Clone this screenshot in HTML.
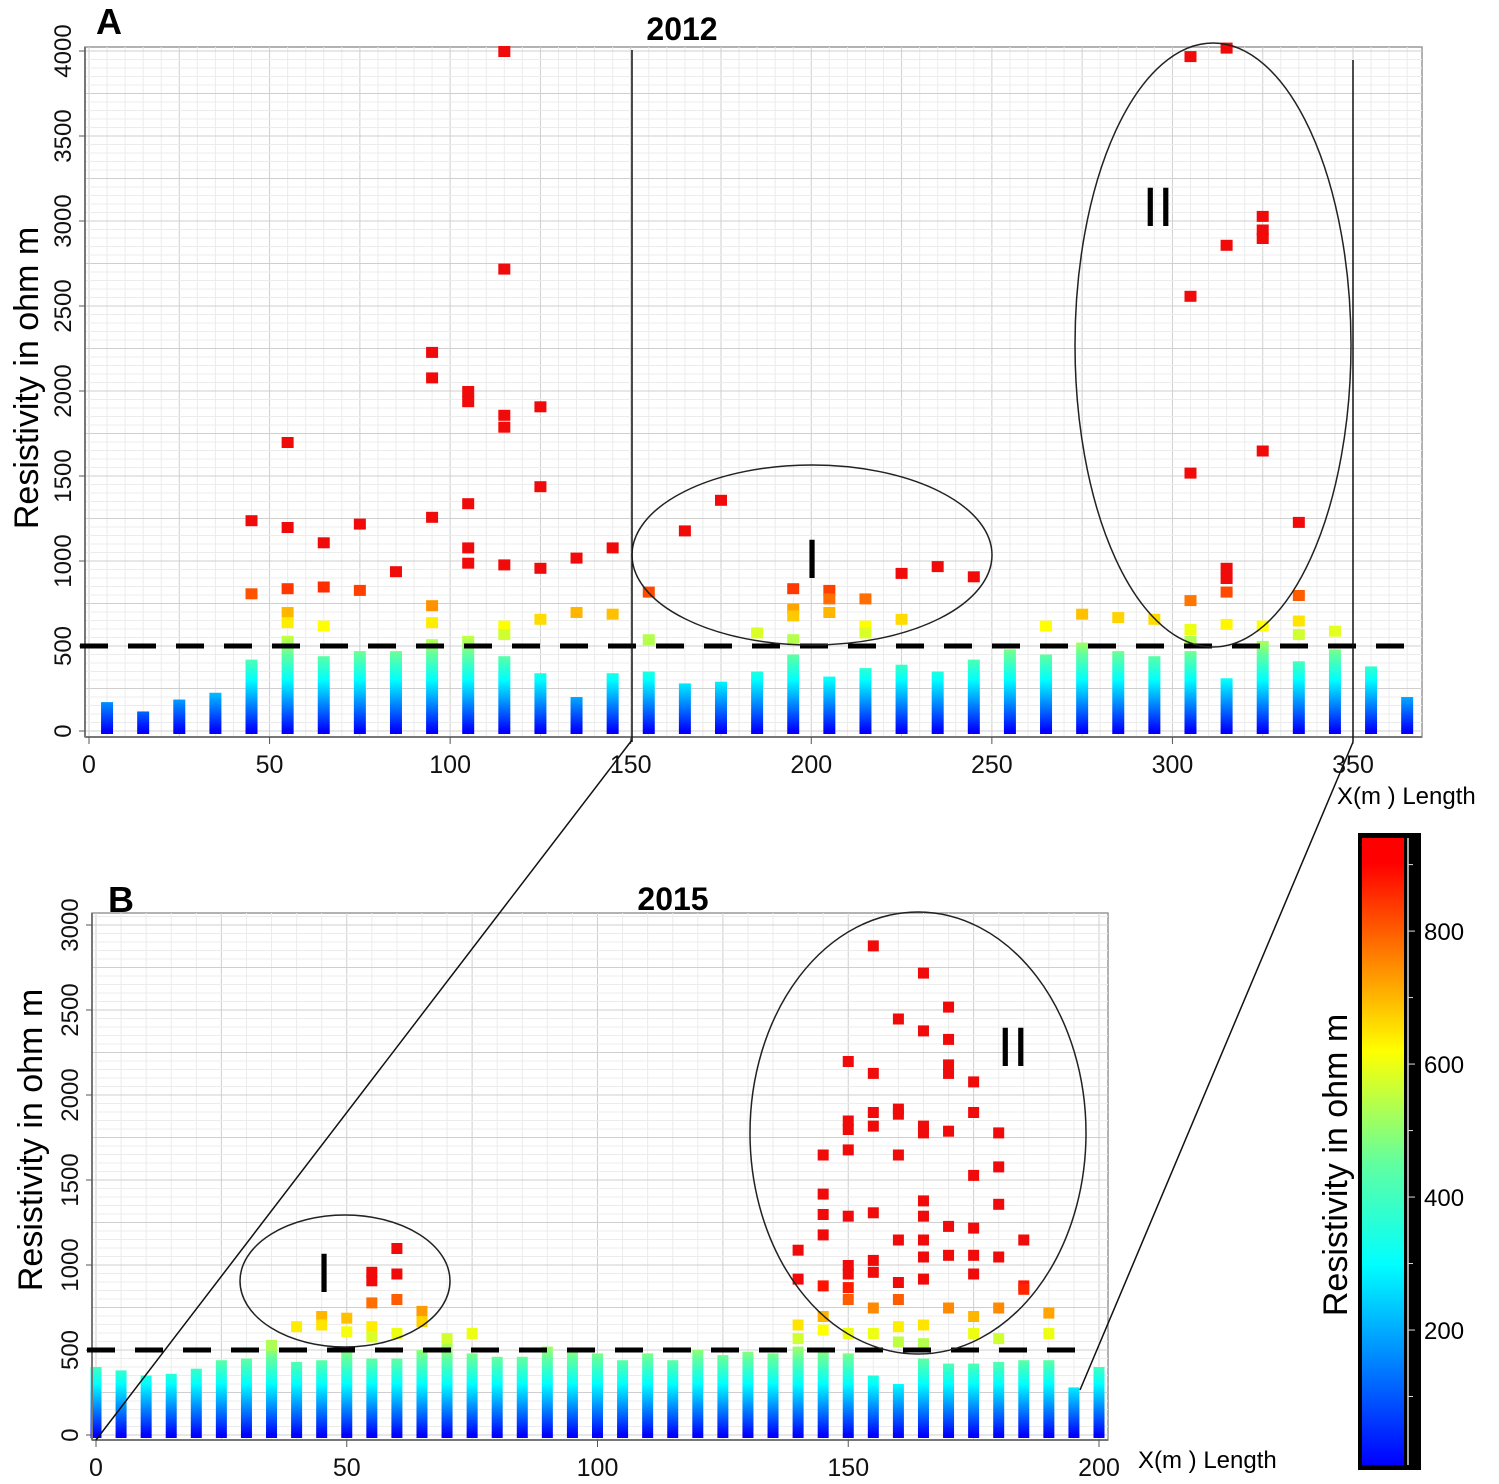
<!DOCTYPE html>
<html><head><meta charset="utf-8"><style>
html,body{margin:0;padding:0;background:#fff}
svg{display:block;font-family:"Liberation Sans",sans-serif}
</style></head><body>
<svg id="s" width="1499" height="1484" viewBox="0 0 1499 1484" xmlns="http://www.w3.org/2000/svg">
<defs>
<linearGradient id="cbgrad" x1="0" y1="1" x2="0" y2="0">
<stop offset="0" stop-color="#0000ff"/><stop offset="0.16" stop-color="#0080ff"/><stop offset="0.32" stop-color="#00ffff"/><stop offset="0.48" stop-color="#60ffa0"/><stop offset="0.66" stop-color="#ffff00"/><stop offset="0.81" stop-color="#ff8000"/><stop offset="0.96" stop-color="#ff0000"/><stop offset="1" stop-color="#ff0000"/>
</linearGradient>
</defs>
<g id="layer"></g>
</svg>
<script>
// ---- Chart A (2012) data ----
const colsA = [5,15,25,35,45,55,65,75,85,95,105,115,125,135,145,155,165,175,185,195,205,215,225,235,245,255,265,275,285,295,305,315,325,335,345,355,365];
const stackA = [170,115,185,225,420,560,440,470,470,540,560,440,340,200,340,350,280,290,350,450,320,370,390,350,420,480,450,520,470,440,470,310,530,410,480,380,200];
const ptsAx = [45,45,55,55,55,55,55,65,65,65,75,75,85,95,95,95,95,95,105,105,105,105,105,115,115,115,115,115,115,115,125,125,125,125,135,135,145,145,155,155,165,175,185,195,195,195,195,205,205,205,215,215,215,225,225,235,245,265,275,285,295,305,305,305,305,305,305,315,315,315,315,315,315,325,325,325,325,325,335,335,335,335,345];
const ptsAv = [1240,810,1700,1200,840,700,640,1110,850,620,1220,830,940,2230,2080,1260,740,640,2000,1940,1340,1080,990,4000,2720,1860,1790,980,620,570,1910,1440,960,660,1020,700,1080,690,820,540,1180,1360,580,840,720,680,540,830,780,700,780,620,580,930,660,970,910,620,690,670,660,3970,2560,1520,770,600,530,4020,2860,960,900,820,630,3030,2950,2900,1650,620,1230,800,650,570,590];
const xTicksA = [0,50,100,150,200,250,300,350];
const yTicksA = [0,500,1000,1500,2000,2500,3000,3500,4000];
// ---- Chart B (2015) data ----
const colsB = [0,5,10,15,20,25,30,35,40,45,50,55,60,65,70,75,80,85,90,95,100,105,110,115,120,125,130,135,140,145,150,155,160,165,170,175,180,185,190,195,200];
const stackB = [400,380,350,360,390,440,450,530,430,440,520,450,450,500,540,480,460,460,520,490,480,440,480,440,500,470,490,480,520,500,480,350,300,450,420,420,430,440,440,280,400];
const ptsBx = [35,40,45,45,50,50,55,55,55,55,55,60,60,60,60,65,65,70,75,140,140,140,140,145,145,145,145,145,145,145,150,150,150,150,150,150,150,150,150,150,155,155,155,155,155,155,155,155,155,160,160,160,160,160,160,160,160,160,165,165,165,165,165,165,165,165,165,165,165,170,170,170,170,170,170,170,170,175,175,175,175,175,175,175,175,180,180,180,180,180,180,185,185,185,190,190];
const ptsBv = [530,640,700,650,690,610,960,910,780,640,580,1100,950,800,600,730,670,570,600,1090,920,650,570,1650,1420,1300,1180,880,700,620,2200,1850,1800,1680,1290,1000,950,870,800,600,2880,2130,1900,1820,1310,1030,960,750,600,2450,1920,1890,1650,1150,900,800,640,550,2720,2380,1820,1780,1380,1290,1150,1050,920,650,540,2520,2330,2180,2130,1790,1230,1060,750,2080,1900,1530,1220,1060,950,700,600,1780,1580,1360,1050,750,570,1150,880,860,720,600];
const xTicksB = [0,50,100,150,200];
const yTicksB = [0,500,1000,1500,2000,2500,3000];
const cbTicks = [200,400,600,800];

const NS='http://www.w3.org/2000/svg';
const L=document.getElementById('layer');
function mk(t,a,p){const e=document.createElementNS(NS,t);for(const k in a)e.setAttribute(k,a[k]);(p||L).appendChild(e);return e;}
const stops=[[0,[0,0,255]],[150,[0,128,255]],[300,[0,255,255]],[450,[96,255,160]],[620,[255,255,0]],[760,[255,128,0]],[900,[255,0,0]]];
function jet(v){if(v>=900)return 'rgb(240,10,10)';if(v<=0)return 'rgb(0,0,255)';for(let i=1;i<stops.length;i++){if(v<=stops[i][0]){const a=stops[i-1],b=stops[i],t=(v-a[0])/(b[0]-a[0]);const c=a[1].map((x,j)=>Math.round(x+(b[1][j]-x)*t));return `rgb(${c})`;}}}

function chart(o){
  const X=v=>o.x0+v*o.kx, Y=v=>o.y0-v*o.ky;
  const g=mk('g',{});
  
  
  mk('rect',{x:o.l,y:o.t,width:o.r-o.l,height:o.b-o.t,fill:'#fff',stroke:'#999','stroke-width':1.5},g);
  // grid
  for(let v=0;X(v)<=o.r;v+=o.minX){const x=X(v);if(x<o.l)continue;mk('line',{x1:x,x2:x,y1:o.t,y2:o.b,stroke:(v%o.majX===0)?'#cfcfcf':'#ececec','stroke-width':1},g);}
  for(let v=0;Y(v)>=o.t;v+=o.minY){const y=Y(v);mk('line',{x1:o.l,x2:o.r,y1:y,y2:y,stroke:(v%o.majY===0)?'#cfcfcf':'#ececec','stroke-width':1},g);}
  // gradient for stacks
  const gid=o.name+'-grad';
  const lg=mk('linearGradient',{id:gid,gradientUnits:'userSpaceOnUse',x1:0,x2:0,y1:Y(0),y2:Y(900)},document.querySelector('defs'));
  [[0,'#0000ff'],[150/900,'#0080ff'],[300/900,'#00ffff'],[0.5,'#60ffa0'],[620/900,'#ffff00'],[760/900,'#ff8000'],[1,'#ff0000']].forEach(s=>mk('stop',{offset:s[0],'stop-color':s[1]},lg));
  o.cols.forEach((c,i)=>{
    const r=mk('rect',{x:X(c)-o.w/2,y:Y(o.stack[i]),width:o.w,height:Y(0)-Y(o.stack[i])+3,fill:`url(#${gid})`},g);
    
    
  });
  o.px.forEach((c,i)=>{
    const v=o.pv[i];
    const r=mk('rect',{x:X(c)-o.w/2,y:Y(v)-5,width:o.w,height:11,fill:jet(v)},g);
    
    
  });
  // axis ticks
  mk('line',{x1:o.l,x2:o.l,y1:o.t,y2:o.b,stroke:'#777','stroke-width':2},g);
  mk('line',{x1:o.l,x2:o.r,y1:o.b,y2:o.b,stroke:'#777','stroke-width':2},g);
  o.xt.forEach(v=>{const t=mk('text',{x:X(v),y:o.b+36,'font-size':25,'text-anchor':'middle',fill:'#111'},g);t.textContent=v;
    
    mk('line',{x1:X(v),x2:X(v),y1:o.b,y2:o.b+7,stroke:'#555'},g);});
  o.yt.forEach(v=>{const y=Y(v);const t=mk('text',{x:o.l-14,y:y,'font-size':24,'text-anchor':'middle',fill:'#111',transform:`rotate(-90 ${o.l-14} ${y})`},g);t.textContent=v;
    
    mk('line',{x1:o.l-6,x2:o.l,y1:y,y2:y,stroke:'#555'},g);});
  // dashed 500 line
  const d=mk('line',{x1:o.l-5,x2:o.dashEnd,y1:Y(500),y2:Y(500),stroke:'#000','stroke-width':5,'stroke-dasharray':'28,20'},g);
  
  return {X,Y};
}

chart({name:'chart-2012',x0:89,kx:1264/350,y0:731,ky:680/4000,l:85,r:1422,t:47,b:737,minX:5,majX:25,minY:50,majY:250,w:12,
  cols:colsA,stack:stackA,px:ptsAx,pv:ptsAv,xt:xTicksA,yt:yTicksA,dashEnd:1410});
chart({name:'chart-2015',x0:96,kx:1003/200,y0:1435,ky:510/3000,l:92,r:1108,t:913,b:1440,minX:5,majX:25,minY:50,majY:250,w:11,
  cols:colsB,stack:stackB,px:ptsBx,pv:ptsBv,xt:xTicksB,yt:yTicksB,dashEnd:1080});

function txt(s,a,name){const t=mk('text',a);t.textContent=s;return t;}
txt('A',{x:96,y:34,'font-size':36,'font-weight':'bold'},'panel-label-a');
txt('B',{x:108,y:912,'font-size':36,'font-weight':'bold'},'panel-label-b');
txt('2012',{x:682,y:40,'font-size':32,'font-weight':'bold','text-anchor':'middle'},'title-2012');
txt('2015',{x:673,y:910,'font-size':32,'font-weight':'bold','text-anchor':'middle'},'title-2015');
txt('Resistivity in ohm m',{x:38,y:378,'font-size':34,'text-anchor':'middle',transform:'rotate(-90 38 378)'},'y-axis-title-2012');
txt('Resistivity in ohm m',{x:42,y:1140,'font-size':34,'text-anchor':'middle',transform:'rotate(-90 42 1140)'},'y-axis-title-2015');
txt('X(m ) Length',{x:1337,y:804,'font-size':24},'x-axis-title-2012');
txt('X(m ) Length',{x:1138,y:1468,'font-size':24},'x-axis-title-2015');
// ellipses & markers
[[812,555,180,90],[1213,345,138,302],[345,1281,105,66],[918,1133,168,221]].forEach((e,i)=>{
  const el=mk('ellipse',{cx:e[0],cy:e[1],rx:e[2],ry:e[3],fill:'none',stroke:'#222','stroke-width':1.5});
  });
txt('I',{x:812,y:578,'font-size':56,'text-anchor':'middle'},'zone-i-label-2012');
txt('II',{x:1158,y:226,'font-size':56,'text-anchor':'middle'},'zone-ii-label-2012');
txt('I',{x:324,y:1292,'font-size':56,'text-anchor':'middle'},'zone-i-label-2015');
txt('II',{x:1013,y:1066,'font-size':56,'text-anchor':'middle'},'zone-ii-label-2015');
// connector lines
[[632,50,632,742],[1353,60,1353,742],[632,740,96,1440],[1353,742,1080,1390]].forEach(l=>{
  const el=mk('line',{x1:l[0],y1:l[1],x2:l[2],y2:l[3],stroke:'#111','stroke-width':1.5});
  });
// colorbar
const cb=mk('rect',{x:1358,y:833,width:63,height:637,fill:'#000'});

mk('rect',{x:1362,y:838,width:42,height:627,fill:'url(#cbgrad)'});
mk('line',{x1:1408,x2:1408,y1:838,y2:1465,stroke:'#ddd','stroke-width':1.5});
const cbY=v=>1463-v*(1463-838)/940;
cbTicks.forEach(v=>{mk('line',{x1:1408,x2:1415,y1:cbY(v),y2:cbY(v),stroke:'#ddd'});
  txt(String(v),{x:1424,y:cbY(v)+9,'font-size':24},'colorbar-tick-label');});
[100,300,500,700,900].forEach(v=>mk('line',{x1:1408,x2:1413,y1:cbY(v),y2:cbY(v),stroke:'#ddd'}));
txt('Resistivity in ohm m',{x:1347,y:1165,'font-size':34,'text-anchor':'middle',transform:'rotate(-90 1347 1165)'},'colorbar-title');
</script>
</body></html>
